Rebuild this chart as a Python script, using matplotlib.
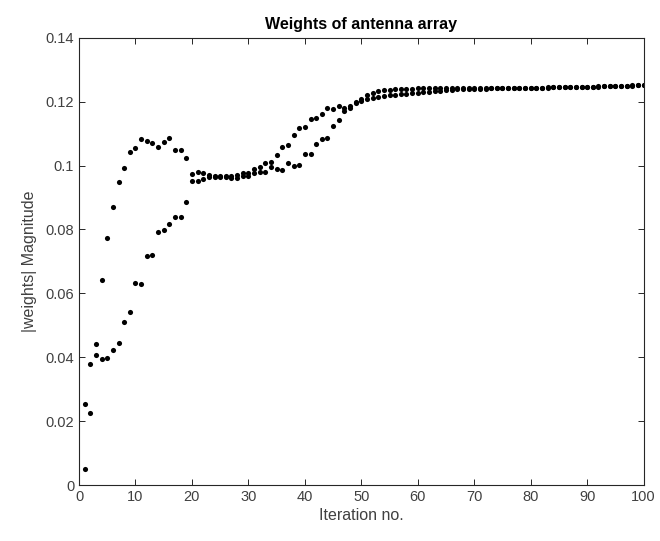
import numpy as np
import matplotlib.pyplot as plt

plt.rcParams['font.family'] = ['Liberation Sans', 'DejaVu Sans']

iterations = np.arange(1, 101)

# weight magnitude, element 1
w1 = [0.0051, 0.0225, 0.0440, 0.0642, 0.0774, 0.0869, 0.0947, 0.0993, 0.1042, 0.1055,
      0.1082, 0.1078, 0.1069, 0.1059, 0.1075, 0.1085, 0.1048, 0.1048, 0.1023, 0.0974,
      0.0980, 0.0976, 0.0970, 0.0967, 0.0967, 0.0967, 0.0968, 0.0970, 0.0975, 0.0978,
      0.0990, 0.0995, 0.1008, 0.1012, 0.1034, 0.1059, 0.1064, 0.1094, 0.1118, 0.1121,
      0.1144, 0.1150, 0.1162, 0.1180, 0.1176, 0.1187, 0.1179, 0.1187, 0.1200, 0.1209,
      0.1220, 0.1227, 0.1232, 0.1235, 0.1237, 0.1239, 0.1240, 0.1241, 0.1241, 0.1242,
      0.1242, 0.1242, 0.1242, 0.1242, 0.1242, 0.1242, 0.1242, 0.1242, 0.1242, 0.1242,
      0.1242, 0.1242, 0.1242, 0.1243, 0.1243, 0.1243, 0.1243, 0.1243, 0.1244, 0.1244,
      0.1244, 0.1244, 0.1245, 0.1245, 0.1245, 0.1246, 0.1246, 0.1246, 0.1247, 0.1247,
      0.1247, 0.1248, 0.1248, 0.1249, 0.1249, 0.1250, 0.1250, 0.1251, 0.1251, 0.1252]

# weight magnitude, element 2
w2 = [0.0255, 0.0380, 0.0406, 0.0393, 0.0399, 0.0422, 0.0443, 0.0510, 0.0540, 0.0632,
      0.0629, 0.0718, 0.0721, 0.0793, 0.0799, 0.0816, 0.0838, 0.0838, 0.0885, 0.0951,
      0.0950, 0.0957, 0.0964, 0.0965, 0.0963, 0.0963, 0.0960, 0.0961, 0.0966, 0.0967,
      0.0977, 0.0979, 0.0979, 0.0995, 0.0990, 0.0987, 0.1008, 0.0998, 0.1002, 0.1035,
      0.1037, 0.1067, 0.1084, 0.1087, 0.1125, 0.1142, 0.1171, 0.1180, 0.1195, 0.1202,
      0.1208, 0.1212, 0.1215, 0.1218, 0.1220, 0.1222, 0.1224, 0.1225, 0.1226, 0.1228,
      0.1229, 0.1231, 0.1232, 0.1234, 0.1235, 0.1237, 0.1238, 0.1239, 0.1240, 0.1241,
      0.1241, 0.1241, 0.1242, 0.1242, 0.1242, 0.1242, 0.1243, 0.1243, 0.1243, 0.1243,
      0.1244, 0.1244, 0.1244, 0.1245, 0.1245, 0.1245, 0.1246, 0.1246, 0.1246, 0.1247,
      0.1247, 0.1247, 0.1248, 0.1248, 0.1249, 0.1249, 0.1250, 0.1250, 0.1251, 0.1251]

x_ticks = list(range(0, 101, 10))
y_ticks = [0, 0.02, 0.04, 0.06, 0.08, 0.1, 0.12, 0.14]
y_tick_labels = ['0', '0.02', '0.04', '0.06', '0.08', '0.1', '0.12', '0.14']

fig = plt.figure(figsize=(6.6, 5.41), dpi=100)
ax = fig.add_axes([0.1197, 0.1035, 0.8555, 0.8268])

ax.plot(iterations, w1, 'o', color='black', markersize=3.7, markeredgewidth=0)
ax.plot(iterations, w2, 'o', color='black', markersize=3.7, markeredgewidth=0)

ax.set_xlim(0, 100)
ax.set_ylim(0, 0.14)
ax.set_xticks(x_ticks)
ax.set_yticks(y_ticks)
ax.set_yticklabels(y_tick_labels)

axcol = '#262626'
for s in ax.spines.values():
    s.set_color(axcol)
    s.set_linewidth(0.8)
ax.tick_params(direction='in', top=True, right=True, length=4, width=0.7,
               colors=axcol, labelsize=10.5, labelcolor='#404040')

ax.set_title('Weights of antenna array', fontsize=11.5, fontweight='bold', color='black', pad=6)
ax.set_xlabel('Iteration no.', fontsize=11.5, color='#404040', labelpad=3)
ax.set_ylabel('|weights| Magnitude', fontsize=11.5, color='#404040', labelpad=6)

fig.savefig('out.png', dpi=100)
